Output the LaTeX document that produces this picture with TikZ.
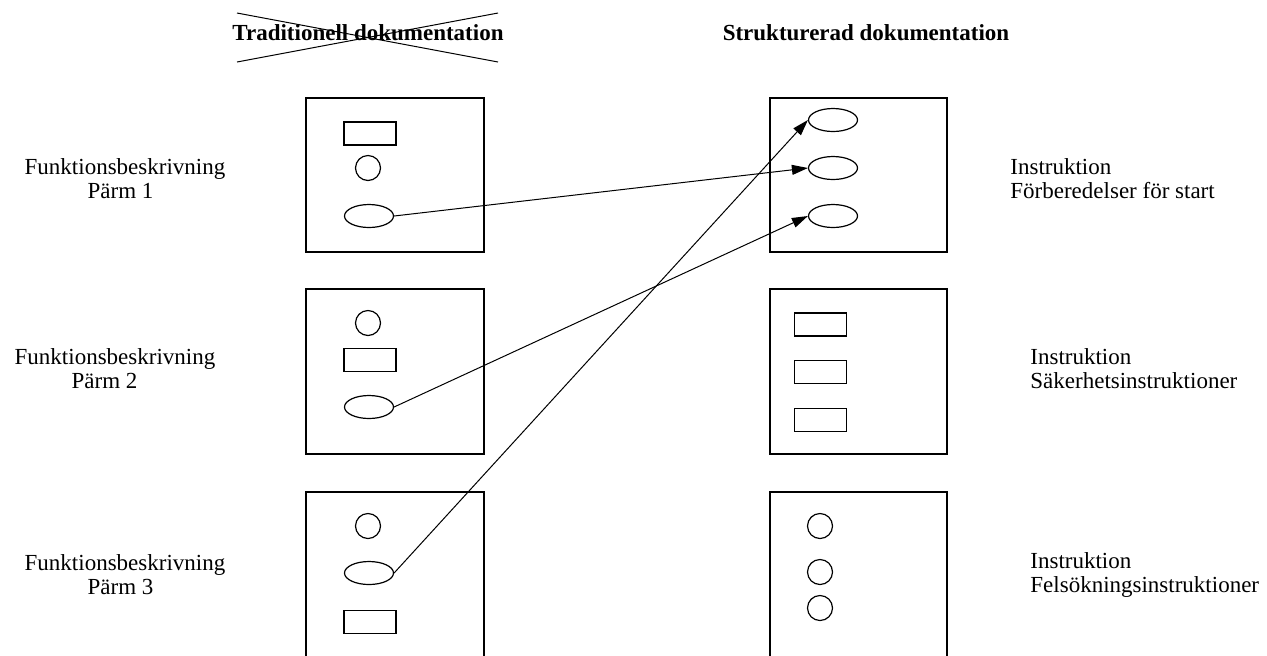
\documentclass[tikz,border=0pt]{standalone}
\usepackage{fontspec}
\setmainfont{Liberation Serif}
\usetikzlibrary{shapes.geometric,arrows.meta}

\begin{document}
\begin{tikzpicture}[x=0.5pt,y=-0.5pt,
    txt/.style={font=\fontsize{11.5}{12}\selectfont,inner sep=0pt},
    head/.style={font=\fontsize{11.5}{12}\selectfont\bfseries,inner sep=0pt},
    rec/.style={draw,line width=0.7pt,minimum width=26pt,minimum height=11.5pt,inner sep=0pt},
    circ/.style={draw,circle,line width=0.6pt,minimum size=12.5pt,inner sep=0pt},
    ell/.style={draw,ellipse,line width=0.6pt,minimum width=24.5pt,minimum height=11.5pt,inner sep=0pt},
    pil/.style={line width=0.5pt,-{Triangle[length=8pt,width=5pt]}}]
  \useasboundingbox (0,0) rectangle (1267,655);

  % rubriker
  \node[head] (trad) at (368,33) {Traditionell dokumentation};
  \node[head] (strukt) at (866,33) {Strukturerad dokumentation};
  \draw [black, line width=0.5pt] (237,13) -- (498,62);
  \draw [black, line width=0.5pt] (237,62) -- (498,13);

  % pärmar
  \draw [black, line width=0.9pt] (306,98) rectangle (484,252);
  \draw [black, line width=0.9pt] (306,289) rectangle (484,454);
  \draw [black, line width=0.9pt] (306,492) rectangle (484,680);
  \node[txt,align=left] (p1) at (125,179) {Funktionsbeskrivning\\\hspace*{31.5pt}Pärm 1};
  \node[txt,align=left] (p2) at (115,369) {Funktionsbeskrivning\\\hspace*{28.5pt}Pärm 2};
  \node[txt,align=left] (p3) at (125,575) {Funktionsbeskrivning\\\hspace*{31.5pt}Pärm 3};

  \node[rec] (l1r) at (370,133.5) {};
  \node[circ] (l1c) at (368,168) {};
  \node[ell] (l1e) at (369,216) {};

  \node[circ] (l2c) at (368,323) {};
  \node[rec] (l2r) at (370,360) {};
  \node[ell] (l2e) at (369,407) {};

  \node[circ] (l3c) at (368,526) {};
  \node[ell] (l3e) at (369,573) {};
  \node[rec] (l3r) at (370,622) {};

  % instruktioner
  \draw [black, line width=0.9pt] (770,98) rectangle (947,252);
  \draw [black, line width=0.9pt] (770,289) rectangle (947,454);
  \draw [black, line width=0.9pt] (770,492) rectangle (947,680);
  \node[txt,align=left,anchor=west] (i1) at (1010,179) {Instruktion\\Förberedelser för start};
  \node[txt,align=left,anchor=west] (i2) at (1030,369) {Instruktion\\Säkerhetsinstruktioner};
  \node[txt,align=left,anchor=west] (i3) at (1030,575) {Instruktion\\Felsökningsinstruktioner};

  \node[ell] (r1e) at (833,120) {};
  \node[ell] (r2e) at (833,168) {};
  \node[ell] (r3e) at (833,216) {};

  \node[rec] (s1r) at (820.5,324.5) {};
  \node[rec] (s2r) at (820.5,372) {};
  \node[rec] (s3r) at (820.5,420) {};

  \node[circ] (f1c) at (820,526) {};
  \node[circ] (f2c) at (820,572) {};
  \node[circ] (f3c) at (820,608) {};

  % pilar
  \draw [pil] (l1e.east) -- (r2e.west);
  \draw [pil] (l2e.east) -- (r3e.west);
  \draw [pil] (l3e.east) -- (r1e.west);
\end{tikzpicture}
\end{document}
